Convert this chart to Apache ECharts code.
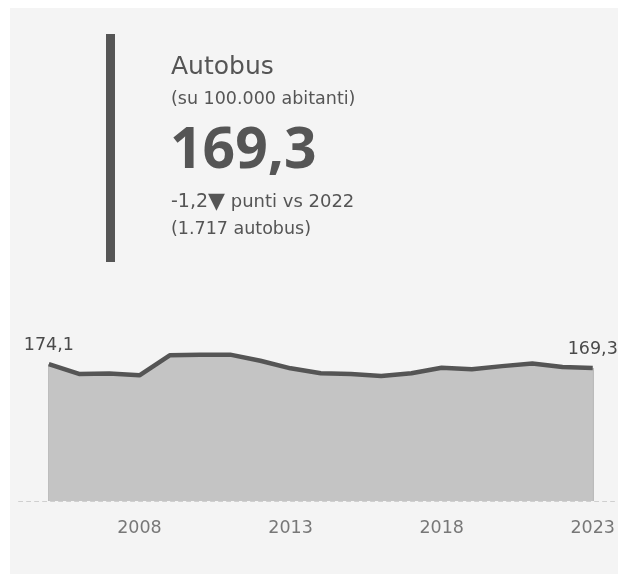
<!DOCTYPE html>
<html>
<head>
<meta charset="utf-8">
<script src="https://cdn.jsdelivr.net/npm/echarts@6/dist/echarts.min.js"></script>
<style>
html,body{margin:0;padding:0;background:#ffffff;overflow:hidden;}
#panel{position:absolute;left:10px;top:8px;right:0;bottom:0;background:#f4f4f4;}
#chart{position:absolute;left:0;top:0;width:618px;height:574px;}
</style>
</head>
<body>
<div id="panel"></div>
<div id="chart"></div>
<script>
const years = [2005,2006,2007,2008,2009,2010,2011,2012,2013,2014,2015,2016,2017,2018,2019,2020,2021,2022,2023];
const values = [174.1,161.6,162.3,159.9,185.4,186.1,186.2,178.5,168.8,162.5,161.6,159.0,162.5,169.6,167.6,171.6,175.0,170.5,169.3];
const tickYears = [2008,2013,2018,2023];
const labelYears = [2005,2023];

const title = "Autobus";
const subtitle = "(su 100.000 abitanti)";
const bigValue = "169,3";
const delta = "-1,2";
const deltaText = "punti vs 2022";
const countText = "(1.717 autobus)";

const FONT = "DejaVu Sans";
const chart = echarts.init(document.getElementById('chart'), null, {renderer:'canvas'});
const data = years.map((y,i)=>({
  value:[y, values[i]],
  label: {show: labelYears.includes(y)}
}));
const first = 0, last = years.length - 1;

chart.setOption({
  backgroundColor: 'transparent',
  animation: false,
  grid: {left: 18.6, right: 0, top: 343.8, bottom: 73, containLabel: false},
  xAxis: {
    type: 'value', min: 2004, max: 2023.72, interval: 1,
    axisLine: {show: true, lineStyle: {color: '#cfcfcf', type: [4,4], width: 1}},
    axisTick: {show: false},
    splitLine: {show: false},
    axisLabel: {
      color: '#777777', fontFamily: FONT, fontSize: 17.5, margin: 27, verticalAlign: 'middle',
      showMaxLabel: false,
      formatter: v => tickYears.includes(v) ? String(v) : ''
    }
  },
  yAxis: {
    type: 'value', min: 0, max: 200, show: false,
    splitLine: {show:false}
  },
  series: [{
    type: 'line',
    data: data,
    symbol: 'circle',
    symbolSize: 1,
    showSymbol: true,
    itemStyle: {color: 'rgba(0,0,0,0)', borderWidth: 0},
    lineStyle: {color: '#555555', width: 4.5},
    areaStyle: {color: '#c4c4c4', opacity: 1},
    z: 3,
    label: {
      position: 'top', distance: 18, verticalAlign: 'middle', color: '#4a4a4a', fontFamily: FONT, fontSize: 17.5,
      formatter: p => p.value[1].toFixed(1).replace('.', ',')
    },
    labelLayout: {hideOverlap: false},
    markLine: {
      silent: true, symbol: 'none', label: {show: false},
      lineStyle: {color: '#a8a8a8', width: 1.5, type: 'solid'},
      z: 2,
      data: [
        [{coord: [years[first], 0]}, {coord: [years[first], values[first]]}],
        [{coord: [years[last], 0]}, {coord: [years[last], values[last]]}]
      ]
    }
  }],
  graphic: [
    {type:'rect', shape:{x:106, y:34, width:9, height:228}, style:{fill:'#555555'}},
    {type:'text', style:{x:171, y:67.5, verticalAlign:'middle', text:title, fill:'#555555', font:'25px "DejaVu Sans"'}},
    {type:'text', style:{x:171, y:99.5, verticalAlign:'middle', text:subtitle, fill:'#555555', font:'17.5px "DejaVu Sans"'}},
    {type:'text', style:{x:170, y:151.5, verticalAlign:'middle', text:bigValue, fill:'#555555', font:'bold 57px "Noto Sans"'}},
    {type:'text', style:{
      x:171, y:202, verticalAlign:'middle',
      rich:{
        a:{fill:'#555555', font:'19px "DejaVu Sans"', verticalAlign:'middle'},
        t:{fill:'#555555', font:'22px "DejaVu Sans"', verticalAlign:'middle'},
        b:{fill:'#555555', font:'18px "DejaVu Sans"', verticalAlign:'middle'}
      },
      text:'{a|'+delta+'}{t|▼}{b| '+deltaText+'}'
    }},
    {type:'text', style:{x:171, y:229.5, verticalAlign:'middle', text:countText, fill:'#555555', font:'17.5px "DejaVu Sans"'}}
  ]
});
</script>
</body>
</html>
